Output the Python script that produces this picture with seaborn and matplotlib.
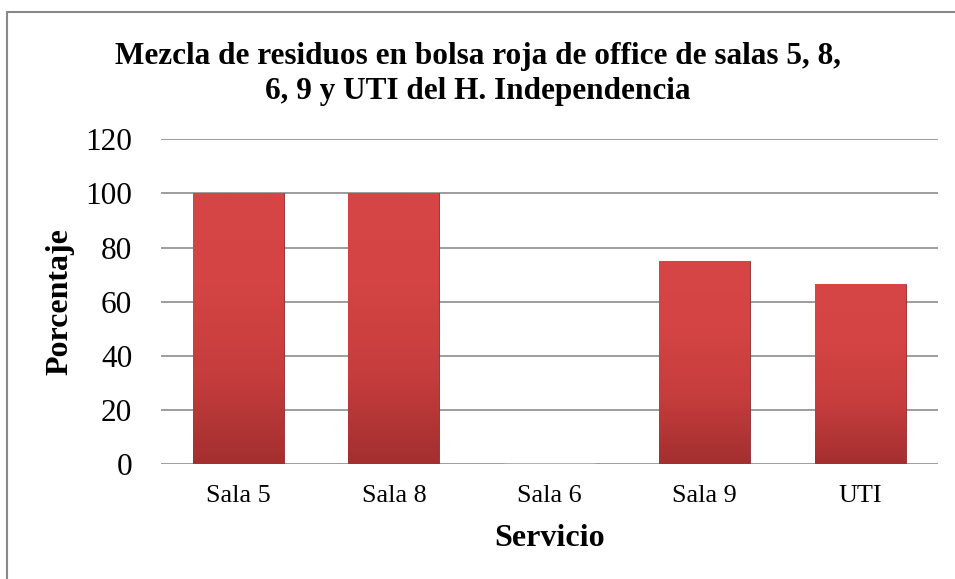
import matplotlib
matplotlib.use("Agg")
import matplotlib.pyplot as plt
import seaborn as sns
import numpy as np
from matplotlib.lines import Line2D

# === Data ===
servicios = ["Sala 5", "Sala 8", "Sala 6", "Sala 9", "UTI"]
porcentaje = [100, 100, 0, 75, 66.67]

titulo = "Mezcla de residuos en bolsa roja de office de salas 5, 8,\n6, 9 y UTI del H. Independencia"

# === Style ===
sns.set_style("white")
plt.rcParams["font.family"] = ["Liberation Serif", "DejaVu Serif"]
for key in ["text.color", "axes.labelcolor", "xtick.color", "ytick.color"]:
    plt.rcParams[key] = "black"

fig = plt.figure(figsize=(9.55, 5.79), dpi=100)
ax = fig.add_axes([160.7 / 955, 1 - 464.3 / 579, 777.3 / 955, 325 / 579])

sns.barplot(x=servicios, y=porcentaje, color="#c94040", width=0.584,
            saturation=1, ax=ax, zorder=3)

# gradient fill on each bar
grad = np.linspace(0, 1, 256).reshape(-1, 1)
cmap = matplotlib.colors.LinearSegmentedColormap.from_list(
    "rojo", ["#a32f2f", "#c63d3d", "#d44444", "#d64646"])
for bar in ax.patches:
    x0, y0 = bar.get_x(), bar.get_y()
    w, h = bar.get_width(), bar.get_height()
    if h <= 0:
        continue
    bar.set_edgecolor("#8a2a2a")
    bar.set_linewidth(0.6)
    im = ax.imshow(grad, extent=[x0, x0 + w, y0, y0 + h], origin="lower",
                   cmap=cmap, aspect="auto", zorder=3.5)
    im.set_clip_path(bar)

ax.set_xlim(-0.5, 4.5)
ax.set_ylim(0, 120)
ax.set_yticks(range(0, 121, 20))
ax.yaxis.grid(True, color="#8c8c8c", linewidth=1.2, zorder=0)
ax.xaxis.grid(False)
for s in ax.spines.values():
    s.set_visible(False)
ax.tick_params(axis="y", labelsize=22.5, length=0, pad=20.5)
ax.tick_params(axis="x", labelsize=18.8, length=0, pad=15)

ax.set_xlabel("Servicio", fontsize=23, fontweight="bold", va="center")
ax.xaxis.set_label_coords(0.5, -0.228)
ax.set_ylabel("Porcentaje", fontsize=23, fontweight="bold", va="center")
ax.yaxis.set_label_coords(-0.129, 0.5)
fig.text(0.5, 1 - 74 / 579, titulo, ha="center", va="center",
         fontsize=22.5, fontweight="bold", linespacing=1.27)

# chart border (left and top edges visible)
bx, by = 6.5 / 955, 1 - 11.5 / 579
fig.lines.append(Line2D([bx, bx], [0, by], transform=fig.transFigure,
                        color="#888888", linewidth=1.5))
fig.lines.append(Line2D([bx, 1], [by, by], transform=fig.transFigure,
                        color="#888888", linewidth=1.5))

fig.savefig("out.png", dpi=100)
